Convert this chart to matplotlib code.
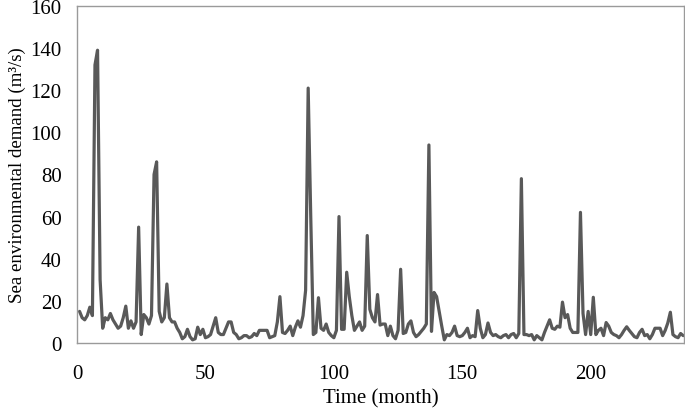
import numpy as np
import matplotlib
matplotlib.use('Agg')
import matplotlib.pyplot as plt

# Monthly sea environmental demand (m3/s), months 1..236
months = np.arange(1, 237)
demand = [
    15, 12, 11, 13, 17, 13, 132, 139, 30, 7,          # 1-10
    12, 11, 14, 11, 9, 7, 8, 12, 17.5, 7,             # 11-20
    10.5, 7, 10, 55, 4, 13.5, 12, 9, 13, 80,          # 21-30
    86, 15, 10, 12, 28, 12, 10, 10, 7, 5,             # 31-40
    2, 3, 6.5, 3, 1.5, 2, 7.5, 4, 6.5, 2.5,           # 41-50
    3, 4, 8, 12, 5, 4, 4, 7, 10, 10,                  # 51-60
    5, 4, 2, 2.5, 3.5, 3.5, 2.5, 3, 4.5, 3.5,         # 61-70
    6, 6, 6, 6, 2.5, 3, 3.5, 10, 22, 5,               # 71-80
    4.5, 6, 8, 3.5, 7.5, 10.5, 7.5, 13, 25, 121,      # 81-90
    60, 4, 5, 21.5, 7, 6, 9, 5, 3.5, 2.5,             # 91-100
    6, 60, 6.5, 6.5, 33.6, 22, 13, 6, 8, 10,          # 101-110
    6, 8, 51, 16, 12, 10, 23, 8.5, 9, 9,              # 111-120
    3.5, 8, 3.5, 2, 6, 35, 4.5, 5, 9, 10.5,           # 121-130
    5, 3, 4, 5.5, 7, 9, 94, 5.5, 24, 22,              # 131-140
    15, 8, 1.5, 4, 3.5, 5, 8, 3.5, 3, 3.5,            # 141-150
    5, 7, 2.5, 3.5, 3, 15.4, 7, 2.5, 4, 9.5,          # 151-160
    5, 3.5, 4, 3, 2.5, 3.5, 4, 2.5, 4, 4.5,           # 161-170
    2.5, 4.5, 78, 4, 4, 3.5, 4, 1.5, 3.5, 2.5,        # 171-180
    1.5, 5, 8, 11, 7, 6.5, 8, 7.5, 19.4, 12,          # 181-190
    13.5, 7, 5, 5, 5, 62, 14, 4, 15, 4,               # 191-200
    21.7, 4, 6, 7, 3.5, 9.7, 8, 5, 4, 3.5,            # 201-210
    2.5, 4, 6, 7.7, 6, 4.5, 3, 2.5, 5, 6.5,           # 211-220
    3.5, 4, 2, 4, 7, 7, 7, 3.5, 6, 9.5,               # 221-230
    14.6, 4, 3, 2.5, 4.5, 3.5,                        # 231-236
]

x_ticks = [0, 50, 100, 150, 200]
y_ticks = [0, 20, 40, 60, 80, 100, 120, 140, 160]

plt.rcParams['font.family'] = ['Liberation Serif', 'DejaVu Serif']

fig = plt.figure(figsize=(6.85, 4.1), dpi=100)
ax = fig.add_axes([0.1124, 0.161, 0.8861, 0.822])

ax.plot(months, demand, color='#595959', linewidth=2.3,
        solid_joinstyle='round', solid_capstyle='round')

ax.set_xlim(0, 236.3)
ax.set_ylim(0, 160)
ax.set_xticks(x_ticks)
ax.set_yticks(y_ticks)
ax.tick_params(axis='both', length=0, labelsize=15)
ax.tick_params(axis='x', pad=15)
ax.tick_params(axis='y', pad=11)

for sp in ax.spines.values():
    sp.set_color('#9a9a9a')
    sp.set_linewidth(1.0)

ax.set_xlabel('Time (month)', fontsize=15, labelpad=4)
ax.set_ylabel('Sea environmental demand (m³/s)', fontsize=13.6, labelpad=3)

plt.savefig('out.png', dpi=100)
